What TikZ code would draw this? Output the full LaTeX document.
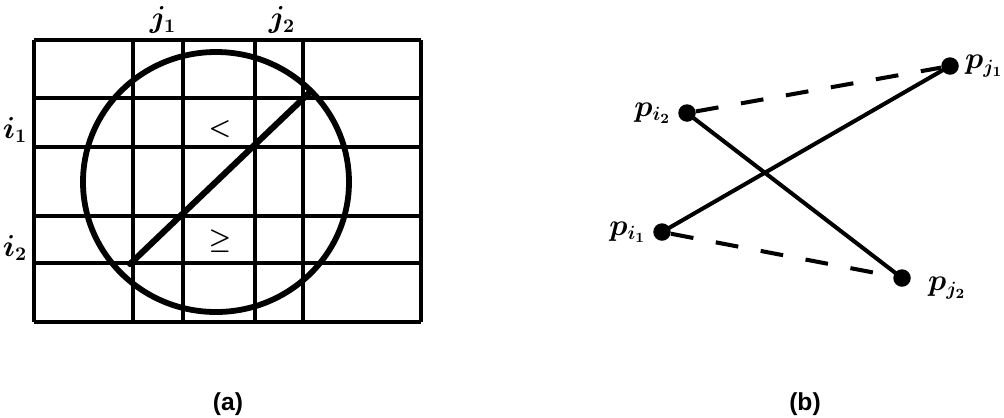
\documentclass[tikz,border=0pt]{standalone}
\usepackage{fontspec}
\newfontfamily\capfont{Liberation Sans}
\usetikzlibrary{positioning}
\begin{document}
\begin{tikzpicture}[
        x=0.02cm, y=-0.02cm,
        gridline/.style={line width=1.9pt},
        ring/.style={line width=3.3pt},
        chord/.style={line width=3.5pt, line cap=round},
        ilab/.style={font=\fontsize{16}{18}\selectfont\boldmath},
        sym/.style={font=\fontsize{14}{16}\selectfont\boldmath},
        pdot/.style={circle, fill=black, inner sep=0pt, minimum size=0.35cm},
        plab/.style={font=\fontsize{16}{18}\selectfont\boldmath, inner sep=1pt},
        link/.style={line width=2.3pt},
        dlink/.style={line width=2.3pt, dash pattern=on 13pt off 13pt},
        sublab/.style={font=\capfont\bfseries\fontsize{14}{16}\selectfont},
      ]
      \path[use as bounding box] (0,0) rectangle (1004,417);
      \foreach \x in {34,133,183,255,303,421} {\draw[gridline] (\x,40) -- (\x,322);}
      \foreach \y in {40,98,147,216,263,322} {\draw[gridline] (34,\y) -- (421,\y);}
      \draw[ring] (216,182) ellipse [x radius=133, y radius=130];
      \coordinate (lo) at (130,264);
      \coordinate (hi) at (309,93);
      \draw[chord] (lo) -- (hi);
      \node[ilab] (j1) at (163,20) {$j_1$};
      \node[ilab] (j2) at (282,20) {$j_2$};
      \node[ilab] (i1) at (15,130) {$i_1$};
      \node[ilab] (i2) at (15,248) {$i_2$};
      \node[sym] (lt) at (220,129) {$<$};
      \node[sym] (ge) at (220,241) {$\geq$};
      \node[pdot] (pi2) at (687,113) {};
      \node[pdot] (pj1) at (950,66) {};
      \node[pdot] (pi1) at (662,232) {};
      \node[pdot] (pj2) at (902,278) {};
      \node[plab, left=0.1cm of pi2] (li2) {$p_{i_2}$};
      \node[plab, left=0.1cm of pi1] (li1) {$p_{i_1}$};
      \node[plab, right=0.08cm of pj1] (lj1) {$p_{j_1}$};
      \node[plab, right=0.3cm of pj2, yshift=-0.2cm] (lj2) {$p_{j_2}$};
      \draw[link] (pi1.center) -- (pj1.center);
      \draw[link] (pi2.center) -- (pj2.center);
      \draw[dlink] (pi2) -- (pj1);
      \draw[dlink] (pi1) -- (pj2);
      \node[sublab] (capa) at (228,404) {(a)};
      \node[sublab] (capb) at (805,404) {(b)};
    \end{tikzpicture}
\end{document}
